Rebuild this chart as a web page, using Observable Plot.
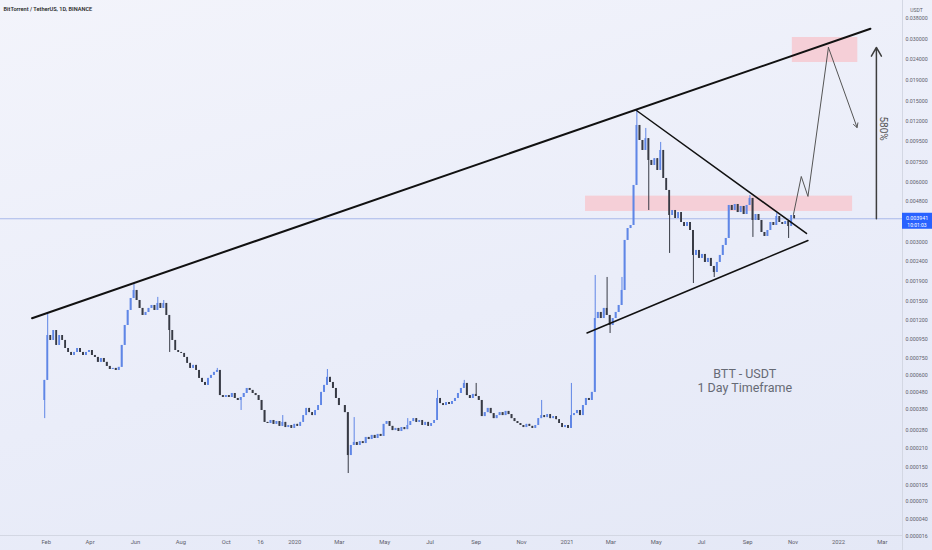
<!DOCTYPE html>
<html><head><meta charset="utf-8">
<script src="https://cdn.jsdelivr.net/npm/d3@7"></script>
<script src="https://cdn.jsdelivr.net/npm/@observablehq/plot@0.6"></script>
<style>
html,body{margin:0;padding:0;width:932px;height:550px;overflow:hidden;
  background:linear-gradient(165deg,#f3f4fb 0%,#eaedf9 55%,#e4e8f6 100%);}
#chart svg{display:block;}
</style></head><body><div id="chart"></div>
<script>
// ---- price data (micro-USDT, 4-day candles) ----
const startDate = "2019-01-30";
const stepDays = 4;
const firstOpen = 428;
const closes = [561, 993, 934, 1056, 878, 993, 934, 845, 804, 774,
 804, 845, 804, 774, 804, 824, 774, 755, 709, 745,
 709, 673, 647, 656, 639, 665, 878, 1123, 1347, 1554,
 1710, 1518, 1380, 1268, 1315, 1380, 1430, 1347, 1465, 1380,
 1465, 1268, 1056, 934, 824, 804, 794, 755, 700, 656,
 682, 639, 576, 546, 525, 576, 599, 623, 639, 458,
 446, 458, 446, 471, 440, 428, 446, 471, 504, 491,
 471, 458, 428, 372, 313, 308, 322, 304, 317, 295,
 313, 290, 299, 286, 304, 295, 313, 346, 383, 361,
 346, 372, 399, 478, 525, 584, 546, 504, 440, 399,
 399, 361, 185, 219, 230, 219, 233, 226, 249, 241,
 257, 245, 261, 253, 304, 317, 295, 277, 286, 273,
 290, 281, 299, 317, 331, 313, 322, 299, 313, 295,
 308, 322, 440, 410, 399, 416, 405, 422, 440, 471,
 504, 539, 458, 440, 465, 452, 428, 341, 361, 383,
 356, 331, 346, 361, 346, 367, 351, 331, 317, 308,
 299, 290, 304, 295, 286, 299, 331, 346, 336, 351,
 331, 341, 326, 308, 290, 299, 286, 346, 356, 372,
 346, 399, 440, 428, 478, 1222, 1315, 1222, 1380, 1268,
 1123, 1222, 1315, 1430, 1710, 3069, 3522, 3647, 5766, 11386,
 9609, 8581, 9810, 7661, 7240, 7818, 6839, 8581, 6244, 5447,
 4091, 4333, 3953, 4233, 3775, 3605, 3775, 3443, 2579, 2733,
 2491, 2609, 2377, 2491, 2268, 2114, 2377, 2579, 2896, 3140,
 4589, 4333, 4641, 4233, 4537, 4138, 4589, 4973, 3863, 4138,
 3863, 3365, 3214, 3443, 3775, 3647, 4044, 3775, 3690, 3819,
 3605, 4091, 3941];
const highWicks = [[1,1299],[30,1836],[38,1575],[40,1518],[58,656],[80,346],[95,647],[104,336],
 [122,331],[132,491],[141,561],[145,539],[167,428],[177,539],[185,2041],[189,1994],[194,1994],
 [199,13485],[202,11010],[207,9400],[237,5145],[246,4186]];
const lowWicks = [[0,331],[42,804],[66,372],[102,133],[185,745],[190,1018],[203,4333],[210,2640],
 [218,1857],[225,1993],[238,3178],[250,3140]];
const lastPrice = 0.003941;
const lastTime = "10:01:03";

// ---- axes ----
const yTicks = [0.048, 0.038, 0.030, 0.024, 0.019, 0.015, 0.012, 0.0095, 0.0075, 0.006, 0.0048,
 0.003, 0.0024, 0.0019, 0.0015, 0.0012, 0.00095, 0.00075, 0.0006, 0.00048, 0.00038, 0.00028,
 0.00021, 0.00015, 0.000105, 0.00007, 0.00004, 0.000016];
const xTickDates = ["2019-02-01","2019-04-01","2019-06-01","2019-08-01","2019-10-01","2019-11-16",
 "2020-01-01","2020-03-01","2020-05-01","2020-07-01","2020-09-01","2020-11-01","2021-01-01",
 "2021-03-01","2021-05-01","2021-07-01","2021-09-01","2021-11-01","2022-01-01","2022-03-01"];
const xTickLabels = ["Feb","Apr","Jun","Aug","Oct","16","2020","Mar","May","Jul","Sep","Nov","2021",
 "Mar","May","Jul","Sep","Nov","2022","Mar"];
const xDomain = ["2018-12-01T13:40Z","2022-03-28T02:00Z"];
const yDomain = [0.0000164, 0.04646];

// ---- drawings (date, price) ----
const resistance = [{date:"2019-01-13", price:0.001227},{date:"2022-02-13", price:0.03383}];
const upperTriangle = [{date:"2021-04-04T12:00Z", price:0.013485},{date:"2021-11-19", price:0.003327}];
const lowerTriangle = [{date:"2021-01-28", price:0.001025},{date:"2021-11-21", price:0.003069}];
const zones = [{x1:"2021-01-26", x2:"2022-01-20", y1:0.004285, y2:0.005106},
               {x1:"2021-10-31", x2:"2022-01-27", y1:0.02315, y2:0.03067}];
const projection = [{date:"2021-11-01T12:00Z", price:0.00414},{date:"2021-11-12", price:0.006388},
 {date:"2021-11-21", price:0.005087},{date:"2021-12-18T12:00Z", price:0.02742},{date:"2022-01-26", price:0.01113}];
const moveArrow = [{date:"2022-02-21", from:0.003941, to:0.02742}];
const moveLabel = [{date:"2022-03-01T12:00Z", price:0.0110, text:"580%"}];
const notes = [{date:"2021-08-28", price:0.000607, text:"BTT - USDT"},
               {date:"2021-08-28", price:0.000504, text:"1 Day Timeframe"}];
const title = "BitTorrent / TetherUS, 1D, BINANCE";

// ---- build candles ----
const DAY = 864e5;
const t0 = new Date(startDate).getTime();
const hiMap = new Map(highWicks), loMap = new Map(lowWicks);
const candles = closes.map((c, i) => {
  const open = (i ? closes[i-1] : firstOpen) * 1e-6;
  const close = c * 1e-6;
  const t = t0 + i * stepDays * DAY;
  const hi = Math.max(open, close, (hiMap.get(i) ?? 0) * 1e-6);
  const lo = Math.min(open, close, (loMap.get(i) ?? 1e9) * 1e-6);
  return {t: new Date(t), x1: new Date(t - stepDays*DAY/2), x2: new Date(t + stepDays*DAY/2),
          open, close, hi, lo, up: close >= open};
});
const D = s => new Date(s);
const labelMap = new Map(xTickDates.map((d,i) => [+new Date(d), xTickLabels[i]]));
const upC = "#5f86e6", downC = "#373a44";

const chart = Plot.plot({
  width: 932, height: 550, marginTop: 0, marginLeft: 0, marginRight: 30, marginBottom: 15,
  style: {background: "transparent", fontFamily: "Roboto, sans-serif"},
  x: {type: "utc", domain: xDomain.map(D)},
  y: {type: "symlog", constant: 0.0001, domain: yDomain},
  marks: [
    Plot.rect(zones, {x1: d => D(d.x1), x2: d => D(d.x2), y1: "y1", y2: "y2", fill: "#f5cfd7"}),
    Plot.ruleY([lastPrice], {stroke: "#a8b9ea", strokeWidth: 1}),
    Plot.ruleY([yDomain[0]], {stroke: "#d3d7e3"}),
    Plot.ruleX([D(xDomain[1])], {stroke: "#d3d7e3", insetBottom: -15}),
    Plot.ruleX(candles, {filter: d => d.up, x: "t", y1: "lo", y2: "hi", stroke: upC, strokeWidth: 1}),
    Plot.ruleX(candles, {filter: d => !d.up, x: "t", y1: "lo", y2: "hi", stroke: downC, strokeWidth: 1}),
    Plot.rect(candles, {filter: d => d.up, x1: "x1", x2: "x2", y1: "open", y2: "close", fill: upC, insetLeft: 0.6, insetRight: 0.6}),
    Plot.rect(candles, {filter: d => !d.up, x1: "x1", x2: "x2", y1: "open", y2: "close", fill: downC, insetLeft: 0.6, insetRight: 0.6}),
    Plot.line(resistance, {x: d => D(d.date), y: "price", stroke: "#111", strokeWidth: 2}),
    Plot.line(upperTriangle, {x: d => D(d.date), y: "price", stroke: "#111", strokeWidth: 1.5}),
    Plot.line(lowerTriangle, {x: d => D(d.date), y: "price", stroke: "#111", strokeWidth: 1.5}),
    Plot.line(projection.slice(0, -1), {x: d => D(d.date), y: "price", stroke: "#555", strokeWidth: 1}),
    Plot.arrow([{a: projection[projection.length-2], b: projection[projection.length-1]}],
      {x1: d => D(d.a.date), y1: d => d.a.price, x2: d => D(d.b.date), y2: d => d.b.price,
       bend: 0, headLength: 7, stroke: "#555", strokeWidth: 1}),
    Plot.arrow(moveArrow, {x1: d => D(d.date), x2: d => D(d.date), y1: "from", y2: "to",
       bend: 0, headLength: 10, stroke: "#3d3d3d", strokeWidth: 1.5}),
    Plot.text(moveLabel, {x: d => D(d.date), y: "price", text: "text", rotate: 90, fontSize: 10, fill: "#555"}),
    Plot.text(notes, {x: d => D(d.date), y: "price", text: "text", fontSize: 12.5, fill: "#666a75"}),
    Plot.text([title], {frameAnchor: "top-left", dx: 3, dy: 9, lineAnchor: "middle", textAnchor: "start",
       fontSize: 5.6, fontWeight: 600, fill: "#2b2b2b"}),
    Plot.text(["USDT"], {frameAnchor: "top-right", dx: 14, dy: 10, lineAnchor: "middle", textAnchor: "middle",
       fontSize: 5, fill: "#5d606b"}),
    Plot.axisY(yTicks, {anchor: "right", tickSize: 0, tickPadding: 3, tickFormat: d3.format(".6f"),
       fontSize: 5.3, fill: "#5d606b", label: null}),
    Plot.axisX(xTickDates.map(D), {anchor: "bottom", tickSize: 0, tickPadding: 4,
       tickFormat: d => labelMap.get(+d), fontSize: 5.8, fill: "#5d606b", label: null})
  ]
});
document.getElementById("chart").appendChild(chart);

// current price label on the price scale
const yc = chart.scale("y").apply(lastPrice);
const g = d3.select(chart).append("g").attr("font-family", "Roboto, sans-serif");
g.append("rect").attr("x", 902).attr("y", yc - 5.5).attr("width", 30).attr("height", 16).attr("fill", "#2962ff");
g.append("text").attr("x", 917).attr("y", yc).attr("text-anchor", "middle").attr("dominant-baseline", "middle")
  .attr("fill", "#fff").attr("font-size", 5.3).text(d3.format(".6f")(lastPrice));
g.append("text").attr("x", 917).attr("y", yc + 7).attr("text-anchor", "middle").attr("dominant-baseline", "middle")
  .attr("fill", "#fff").attr("font-size", 5).text(lastTime);
</script></body></html>
